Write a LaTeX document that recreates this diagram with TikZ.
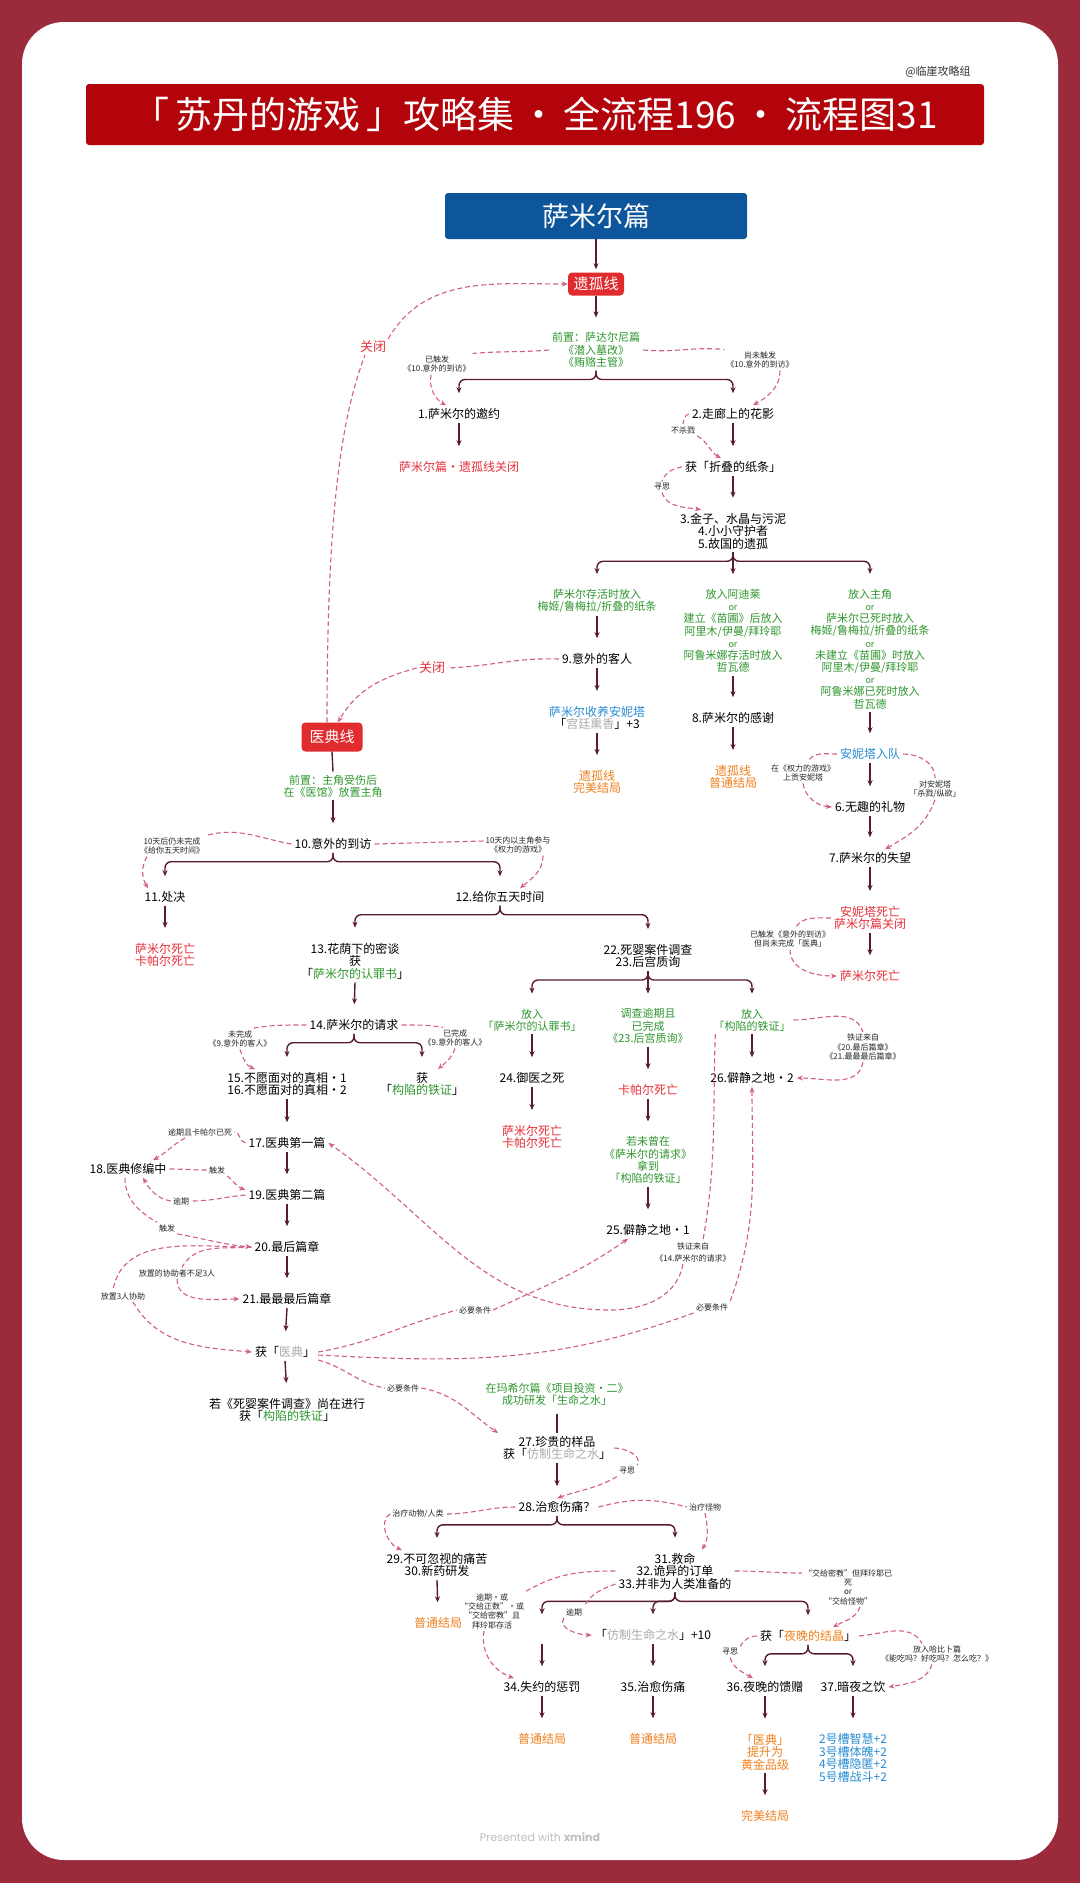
\documentclass[tikz,border=0pt]{standalone}
\usepackage{fontspec}
\setmainfont{Noto Sans CJK SC}
\newfontfamily\popfont{Poppins}
\usetikzlibrary{arrows.meta}
\definecolor{bgred}{RGB}{155,42,58}
\definecolor{titred}{RGB}{178,4,10}
\definecolor{boxblue}{RGB}{14,86,156}
\definecolor{boxred}{RGB}{224,44,46}
\definecolor{arrc}{RGB}{88,28,42}
\definecolor{pinkc}{RGB}{210,95,130}
\definecolor{grn}{RGB}{46,150,46}
\definecolor{txred}{RGB}{230,48,58}
\definecolor{org}{RGB}{240,128,30}
\definecolor{blu}{RGB}{40,140,210}
\definecolor{gry}{RGB}{170,170,170}
\newcommand\tgray[1]{\textcolor{gry}{#1}}
\newcommand\tgreen[1]{\textcolor{grn}{#1}}
\newcommand\torange[1]{\textcolor{org}{#1}}
\newcommand\orline{{\fontsize{9}{12.2}\selectfont or}}
\begin{document}
\begin{tikzpicture}[x=1pt,y=1pt,
 nd/.style={font=\fontsize{12}{12.5}\selectfont, align=center, inner xsep=3pt, inner ysep=3pt, text=black},
 gt/.style={nd, text=grn, font=\fontsize{11}{12.2}\selectfont},
 rt/.style={nd, text=txred},
 ot/.style={nd, text=org},
 bt/.style={nd, text=blu},
 lb/.style={font=\fontsize{8}{9.3}\selectfont, align=center, inner sep=2pt, text=black!85},
 cl/.style={font=\fontsize{13}{14}\selectfont, text=txred, inner sep=2pt},
 redbox/.style={fill=boxred, rounded corners=4pt, text=white, font=\fontsize{15}{16}\selectfont, inner sep=0pt},
 arr/.style={draw=arrc, line width=1.4pt, -{Stealth[length=6pt,width=5pt]}},
 go/.style={arr, shorten >=12pt},
 br/.style={go, rounded corners=6pt},
 pl/.style={draw=arrc, line width=1.4pt},
 dsh/.style={draw=pinkc, line width=1.1pt, dash pattern=on 5pt off 3pt},
 dar/.style={dsh, -{Stealth[length=6pt,width=5pt]}},
]
\useasboundingbox (0,0) rectangle (1080,-1883);
\fill[bgred] (0,0) rectangle (1080,-1883);
\fill[white, rounded corners=42pt] (22,-22) rectangle (1058,-1860);

% header
\node[font=\fontsize{11}{12}\selectfont, text=black!80] (credit) at (938,-72) {@临崖攻略组};
\node[fill=titred, rounded corners=3pt, minimum width=898pt, minimum height=61pt, text=white, font=\fontsize{37}{40}\selectfont, inner sep=0pt] (title) at (535,-114.5) {「\,苏丹的游戏\,」攻略集\,·\,全流程196\,·\,流程图31};
\node[fill=boxblue, rounded corners=3pt, minimum width=302pt, minimum height=46pt, text=white, font=\fontsize{27}{28}\selectfont, inner sep=0pt] (sam) at (596,-216) {萨米尔篇};

% 遗孤线
\node[redbox, minimum width=56pt, minimum height=23pt] (yg) at (596,-284) {遗孤线};
\node[gt] (pre1) at (596,-350) {前置：萨达尔尼篇\\《潜入墓改》\\《贿赂主管》};
\node[nd] (n1) at (459,-414) {1.萨米尔的邀约};
\node[nd] (n2) at (733,-414) {2.走廊上的花影};
\node[rt] (close1) at (459,-467) {萨米尔篇·遗孤线关闭};
\node[nd] (paper) at (733,-467) {获「折叠的纸条」};
\node[nd] (n3) at (733,-531) {3.金子、水晶与污泥\\4.小小守护者\\5.故国的遗孤};
\node[gt] (g1) at (597,-601) {萨米尔存活时放入\\梅姬/鲁梅拉/折叠的纸条};
\node[gt] (g2) at (733,-631) {放入阿迪莱\\\orline\\建立《苗圃》后放入\\阿里木/伊曼/拜玲耶\\\orline\\阿鲁米娜存活时放入\\哲瓦德};
\node[gt] (g3) at (870,-649) {放入主角\\\orline\\萨米尔已死时放入\\梅姬/鲁梅拉/折叠的纸条\\\orline\\未建立《苗圃》时放入\\阿里木/伊曼/拜玲耶\\\orline\\阿鲁米娜已死时放入\\哲瓦德};
\node[nd] (n9) at (597,-659) {9.意外的客人};
\node[bt] (adopt) at (597,-718) {萨米尔收养安妮塔\\\textcolor{black}{「\tgray{宫廷熏香}」+3}};
\node[ot] (end1) at (597,-782) {遗孤线\\完美结局};
\node[nd] (n8) at (733,-718) {8.萨米尔的感谢};
\node[ot] (end2) at (733,-777) {遗孤线\\普通结局};
\node[bt] (annita) at (870,-754) {安妮塔入队};
\node[nd] (n6) at (870,-807) {6.无趣的礼物};
\node[nd] (n7) at (870,-858) {7.萨米尔的失望};
\node[rt] (dead1) at (870,-918) {安妮塔死亡\\萨米尔篇关闭};
\node[rt] (dead2) at (870,-976) {萨米尔死亡};

% 医典线
\node[redbox, minimum width=61pt, minimum height=29pt] (yd) at (332,-737) {医典线};
\node[gt] (pre2) at (333,-786) {前置：主角受伤后\\在《医馆》放置主角};
\node[nd] (n10) at (333,-844) {10.意外的到访};
\node[nd] (n11) at (165,-897) {11.处决};
\node[nd] (n12) at (500,-897) {12.给你五天时间};
\node[rt] (dead3) at (165,-955) {萨米尔死亡\\卡帕尔死亡};
\node[nd] (n13) at (355,-961) {13.花荫下的密谈\\获\\「\tgreen{萨米尔的认罪书}」};
\node[nd] (n22) at (648,-956) {22.死婴案件调查\\23.后宫质询};
\node[nd] (n14) at (354,-1025) {14.萨米尔的请求};
\node[nd] (n15) at (287,-1084) {15.不愿面对的真相·1\\16.不愿面对的真相·2};
\node[nd] (get1) at (422,-1084) {获\\「\tgreen{构陷的铁证}」};
\node[gt] (c1) at (532,-1020) {放入\\「萨米尔的认罪书」};
\node[gt] (c2) at (648,-1026) {调查逾期且\\已完成\\《23.后宫质询》};
\node[gt] (c3) at (752,-1020) {放入\\「构陷的铁证」};
\node[nd] (n24) at (532,-1078) {24.御医之死};
\node[rt] (dead4) at (532,-1137) {萨米尔死亡\\卡帕尔死亡};
\node[rt] (dead5) at (648,-1090) {卡帕尔死亡};
\node[gt] (c4) at (648,-1160) {若未曾在\\《萨米尔的请求》\\拿到\\「构陷的铁证」};
\node[nd] (n25) at (648,-1230) {25.僻静之地·1};
\node[nd] (n26) at (752,-1078) {26.僻静之地·2};
\node[nd] (n17) at (287,-1143) {17.医典第一篇};
\node[nd] (n18) at (128,-1169) {18.医典修编中};
\node[nd] (n19) at (287,-1195) {19.医典第二篇};
\node[nd] (n20) at (287,-1247) {20.最后篇章};
\node[nd] (n21) at (287,-1299) {21.最最最后篇章};
\node[nd] (book) at (285,-1352) {获「\tgray{医典}」};
\node[nd] (n22b) at (287,-1410) {若《死婴案件调查》尚在进行\\获「\tgreen{构陷的铁证}」};
\node[gt] (mx) at (557,-1394) {在玛希尔篇《项目投资·二》\\成功研发「生命之水」};
\node[nd] (n27) at (557,-1448) {27.珍贵的样品\\获「\tgray{仿制生命之水}」};
\node[nd] (n28) at (557,-1507) {28.治愈伤痛？};
\node[nd] (n29) at (437,-1565) {29.不可忽视的痛苦\\30.新药研发};
\node[ot] (end3) at (438,-1623) {普通结局};
\node[nd] (n31) at (675,-1571) {31.救命\\32.诡异的订单\\33.并非为人类准备的};
\node[nd] (gap34) at (542,-1635) {\phantom{获}};
\node[nd] (water) at (653,-1635) {「\tgray{仿制生命之水}」+10};
\node[nd] (crystal) at (808,-1636) {获「\torange{夜晚的结晶}」};
\node[nd] (n34) at (542,-1687) {34.失约的惩罚};
\node[nd] (n35) at (653,-1687) {35.治愈伤痛};
\node[nd] (n36) at (765,-1687) {36.夜晚的馈赠};
\node[nd] (n37) at (853,-1687) {37.暗夜之饮};
\node[ot] (end4) at (542,-1739) {普通结局};
\node[ot] (end5) at (653,-1739) {普通结局};
\node[ot] (gold) at (765,-1752) {「医典」\\提升为\\黄金品级};
\node[bt] (slots) at (853,-1758) {2号槽智慧+2\\3号槽体魄+2\\4号槽隐匿+2\\5号槽战斗+2};
\node[ot] (end6) at (765,-1816) {完美结局};
\node[font=\popfont\fontsize{11}{12}\selectfont, text=black!25] (xm) at (540,-1837) {Presented with \textbf{xmind}};

% labels
\node[cl] (cl1) at (373,-347) {关闭};
\node[cl] (cl2) at (432,-668) {关闭};
\node[lb] (l1) at (437,-364) {已触发\\《10.意外的到访》};
\node[lb] (l2) at (760,-360) {尚未触发\\《10.意外的到访》};
\node[lb] (l3) at (683,-430) {不杀戮};
\node[lb] (l4) at (662,-487) {寻思};
\node[lb] (l5) at (803,-773) {在《权力的游戏》\\上贡安妮塔};
\node[lb] (l6) at (935,-789) {对安妮塔\\「杀戮/纵欲」};
\node[lb] (l7) at (790,-939) {已触发《意外的到访》\\但尚未完成「医典」};
\node[lb] (l8) at (172,-846) {10天后仍未完成\\《给你五天时间》};
\node[lb] (l9) at (518,-845) {10天内以主角参与\\《权力的游戏》};
\node[lb] (l10) at (240,-1039) {未完成\\《9.意外的客人》};
\node[lb] (l11) at (455,-1038) {已完成\\《9.意外的客人》};
\node[lb] (l12) at (863,-1047) {铁证来自\\《20.最后篇章》\\《21.最最最后篇章》};
\node[lb, font=\fontsize{8}{12}\selectfont] (l13) at (693,-1252) {铁证来自\\《14.萨米尔的请求》};
\node[lb] (l14) at (200,-1132) {逾期且卡帕尔已死};
\node[lb] (l15) at (217,-1170) {触发};
\node[lb] (l16) at (181,-1201) {逾期};
\node[lb] (l17) at (167,-1228) {触发};
\node[lb] (l18) at (177,-1273) {放置的协助者不足3人};
\node[lb] (l19) at (123,-1296) {放置3人协助};
\node[lb] (l20) at (475,-1310) {必要条件};
\node[lb] (l21) at (712,-1307) {必要条件};
\node[lb] (l22) at (403,-1388) {必要条件};
\node[lb] (l23) at (627,-1471) {寻思};
\node[lb] (l24) at (418,-1514) {治疗动物/人类};
\node[lb] (l25) at (705,-1507) {治疗怪物};
\node[lb] (l26) at (492,-1611) {逾期·或\\“交给正数”·或\\“交给密教”且\\拜玲耶存活};
\node[lb] (l27) at (574,-1612) {逾期};
\node[lb] (l28) at (848,-1587) {“交给密教”但拜玲耶已\\死\\or\\“交给怪物”};
\node[lb] (l29) at (730,-1652) {寻思};
\node[lb] (l30) at (937,-1654) {放入哈比卜篇\\《能吃吗？好吃吗？怎么吃？》};

% solid connectors
\draw[arr, shorten >=3pt] (sam.south) -- (yg.north);
\draw[go] (yg.south) -- (pre1.north);
\draw[br] (pre1.south) -- ++(0,-9) -| (n1.north);
\draw[br] (pre1.south) -- ++(0,-9) -| (n2.north);
\draw[go] (n1.south) -- (close1.north);
\draw[go] (n2.south) -- (paper.north);
\draw[go] (paper.south) -- (n3.north);
\draw[br] (n3.south) -- ++(0,-9) -| (g1.north);
\draw[br] (n3.south) -- ++(0,-9) -| (g2.north);
\draw[br] (n3.south) -- ++(0,-9) -| (g3.north);
\draw[go] (g1.south) -- (n9.north);
\draw[go] (n9.south) -- (adopt.north);
\draw[go] (adopt.south) -- (end1.north);
\draw[go] (g2.south) -- (n8.north);
\draw[go] (n8.south) -- (end2.north);
\draw[go] (g3.south) -- (annita.north);
\draw[go] (annita.south) -- (n6.north);
\draw[go] (n6.south) -- (n7.north);
\draw[go] (n7.south) -- (dead1.north);
\draw[go] (dead1.south) -- (dead2.north);

\draw[pl] (yd.south) -- (pre2.north);
\draw[go] (pre2.south) -- (n10.north);
\draw[br] (n10.south) -- ++(0,-9) -| (n11.north);
\draw[br] (n10.south) -- ++(0,-9) -| (n12.north);
\draw[go] (n11.south) -- (dead3.north);
\draw[br] (n12.south) -- ++(0,-9) -| (n13.north);
\draw[br] (n12.south) -- ++(0,-9) -| (n22.north);
\draw[go] (n13.south) -- (n14.north);
\draw[br] (n14.south) -- ++(0,-9) -| (n15.north);
\draw[br] (n14.south) -- ++(0,-9) -| (get1.north);
\draw[br] (n22.south) -- ++(0,-9) -| (c1.north);
\draw[br] (n22.south) -- ++(0,-9) -| (c2.north);
\draw[br] (n22.south) -- ++(0,-9) -| (c3.north);
\draw[go] (c1.south) -- (n24.north);
\draw[go] (n24.south) -- (dead4.north);
\draw[go] (c2.south) -- (dead5.north);
\draw[go] (dead5.south) -- (c4.north);
\draw[go] (c4.south) -- (n25.north);
\draw[go] (c3.south) -- (n26.north);
\draw[go] (n15.south) -- (n17.north);
\draw[go] (n17.south) -- (n19.north);
\draw[go] (n19.south) -- (n20.north);
\draw[go] (n20.south) -- (n21.north);
\draw[go] (n21.south) -- (book.north);
\draw[go] (book.south) -- (n22b.north);
\draw[pl] ([yshift=-6pt]mx.south) -- (n27.north);
\draw[go] (n27.south) -- (n28.north);
\draw[br] (n28.south) -- ++(0,-9) -| (n29.north);
\draw[br] (n28.south) -- ++(0,-9) -| (n31.north);
\draw[go] (n29.south) -- (end3.north);
\draw[br] (n31.south) -- ++(0,-9) -| (gap34.north);
\draw[br] (n31.south) -- ++(0,-9) -| (water.north);
\draw[br] (n31.south) -- ++(0,-9) -| (crystal.north);
\draw[go] (gap34.south) -- (n34.north);
\draw[go] (water.south) -- (n35.north);
\draw[go] (n34.south) -- (end4.north);
\draw[go] (n35.south) -- (end5.north);
\draw[br] (crystal.south) -- ++(0,-9) -| (n36.north);
\draw[br] (crystal.south) -- ++(0,-9) -| (n37.north);
\draw[go] (n36.south) -- (gold.north);
\draw[go] (gold.south) -- (end6.north);
\draw[go] (n37.south) -- (slots.north);

% dashed connectors
\draw[dsh] ([xshift=-5pt]yd.north) .. controls (327,-520) and (340,-420) .. ([xshift=-8pt]cl1.south);
\draw[dar] (cl1.north east) to[out=60,in=180] (yg.west);
\draw[dsh] (n9.west) to[out=178,in=2] (cl2.east);
\draw[dar] (cl2.west) to[out=195,in=60] ([xshift=6pt]yd.north);

\draw[dsh] (pre1.west) to[out=185,in=5] (l1.north east);
\draw[dar] ([xshift=-6pt]l1.south) to[out=-100,in=150] ([xshift=-13pt]n1.north);
\draw[dsh] (pre1.east) to[out=-5,in=175] (l2.north west);
\draw[dar] ([xshift=20pt]l2.south) to[out=-90,in=30] ([xshift=20pt]n2.north);
\draw[dsh] (n2.west) to[out=195,in=80] (l3.north);
\draw[dar] (l3.south east) to[out=-30,in=150] ([xshift=-12pt]paper.north);
\draw[dsh] (paper.west) to[out=190,in=70] (l4.north);
\draw[dar] (l4.south) to[out=-70,in=170] ([xshift=-32pt]n3.north);

\draw[dsh] (annita.west) to[out=180,in=70] ([xshift=5pt]l5.north);
\draw[dar] (l5.south) to[out=-80,in=175] (n6.west);
\draw[dsh] (annita.east) to[out=0,in=90] (l6.north);
\draw[dar] (l6.south) to[out=-110,in=30] ([xshift=15pt]n7.north);
\draw[dsh] (dead1.west) to[out=180,in=60] ([xshift=5pt]l7.north);
\draw[dar] (l7.south) to[out=-90,in=180] (dead2.west);

\draw[dsh] (n10.west) to[out=170,in=15] (l8.north east);
\draw[dar] ([xshift=-25pt]l8.south) to[out=-120,in=120] ([xshift=-17pt]n11.north);
\draw[dsh] (n10.east) -- ([yshift=4pt]l9.west);
\draw[dar] ([xshift=25pt]l9.south) to[out=-90,in=40] ([xshift=20pt]n12.north);

\draw[dsh] (n14.west) to[out=180,in=10] ([xshift=12pt]l10.north);
\draw[dar] (l10.south) to[out=-70,in=160] ([xshift=-32pt]n15.north);
\draw[dsh] (n14.east) to[out=0,in=170] ([xshift=-12pt]l11.north);
\draw[dar] (l11.south) to[out=-110,in=40] ([xshift=16pt]get1.north);

\draw[dsh] (c3.east) to[out=0,in=110] (l12.north);
\draw[dar] (l12.south) to[out=-100,in=0] (n26.east);
\coordinate (w1) at (610,-1310);
\draw[dsh] ([xshift=5pt]c3.south west) to[out=-92,in=80] ([xshift=10pt]l13.north);
\draw[dar] ([xshift=-10pt]l13.south) to[out=-100,in=0] (w1) to[out=180,in=-35] (n17.east);

\draw[dsh] (n17.west) to[out=170,in=0] (l14.east);
\draw[dar] ([xshift=-15pt]l14.south) to[out=-150,in=30] ([xshift=25pt]n18.north);
\draw[dsh] (n18.east) to[out=0,in=180] (l15.west);
\draw[dar] (l15.south east) to[out=-40,in=160] ([yshift=5pt]n19.west);
\draw[dsh] (n19.west) to[out=185,in=0] (l16.east);
\draw[dar] (l16.west) to[out=170,in=-60] ([xshift=15pt]n18.south);
\draw[dsh] ([xshift=-3pt]n18.south) to[out=-90,in=150] (l17.north west);
\draw[dar] (l17.south east) to[out=-10,in=175] (n20.west);
\draw[dsh] (n20.west) to[out=185,in=60] ([xshift=5pt]l18.north);
\draw[dar] (l18.south) to[out=-90,in=180] (n21.west);
\draw[dsh] (n20.west) to[out=180,in=80] ([xshift=-10pt]l19.north);
\draw[dar] ([xshift=10pt]l19.south) to[out=-60,in=175] (book.west);

\draw[dsh] (book.east) to[out=10,in=195] (l20.west);
\draw[dar] (l20.east) to[out=25,in=-145] ([xshift=-20pt]n25.south);
\draw[dsh] ([yshift=-3pt]book.east) to[out=-3,in=200] (l21.south west);
\draw[dar] (l21.north east) to[out=70,in=-90] (n26.south);
\draw[dsh] ([yshift=-8pt]book.east) to[out=-15,in=170] (l22.west);
\draw[dar] (l22.east) to[out=-10,in=145] ([xshift=-59pt]n27.north);

\draw[dsh] (n27.east) to[out=0,in=60] (l23.north east);
\draw[dar] (l23.south west) to[out=-150,in=20] (n28.north);
\draw[dsh] (n28.west) to[out=180,in=0] (l24.east);
\draw[dar] (l24.west) to[out=210,in=160] ([xshift=-35pt]n29.north);
\draw[dsh] (n28.east) to[out=15,in=165] (l25.west);
\draw[dar] (l25.south) to[out=-80,in=60] ([xshift=27pt]n31.north);

\draw[dsh] (n31.west) to[out=180,in=30] (l26.north east);
\draw[dar] ([xshift=-8pt]l26.south) to[out=-100,in=160] ([xshift=-28pt]n34.north);
\draw[dsh] ([yshift=-13pt]n31.west) to[out=200,in=60] (l27.north east);
\draw[dar] (l27.south west) to[out=-120,in=180] (water.west);
\draw[dsh] (n31.east) to[out=0,in=180] ([yshift=14pt]l28.west);
\draw[dar] ([xshift=12pt]l28.south) to[out=-110,in=30] ([xshift=25pt]crystal.north);
\draw[dsh] (crystal.west) to[out=180,in=60] (l29.north east);
\draw[dar] (l29.south) to[out=-70,in=150] ([xshift=-12pt]n36.north);
\draw[dsh] (crystal.east) to[out=5,in=120] ([xshift=-15pt]l30.north);
\draw[dar] ([xshift=-5pt]l30.south) to[out=-110,in=10] (n37.east);
\end{tikzpicture}
\end{document}
